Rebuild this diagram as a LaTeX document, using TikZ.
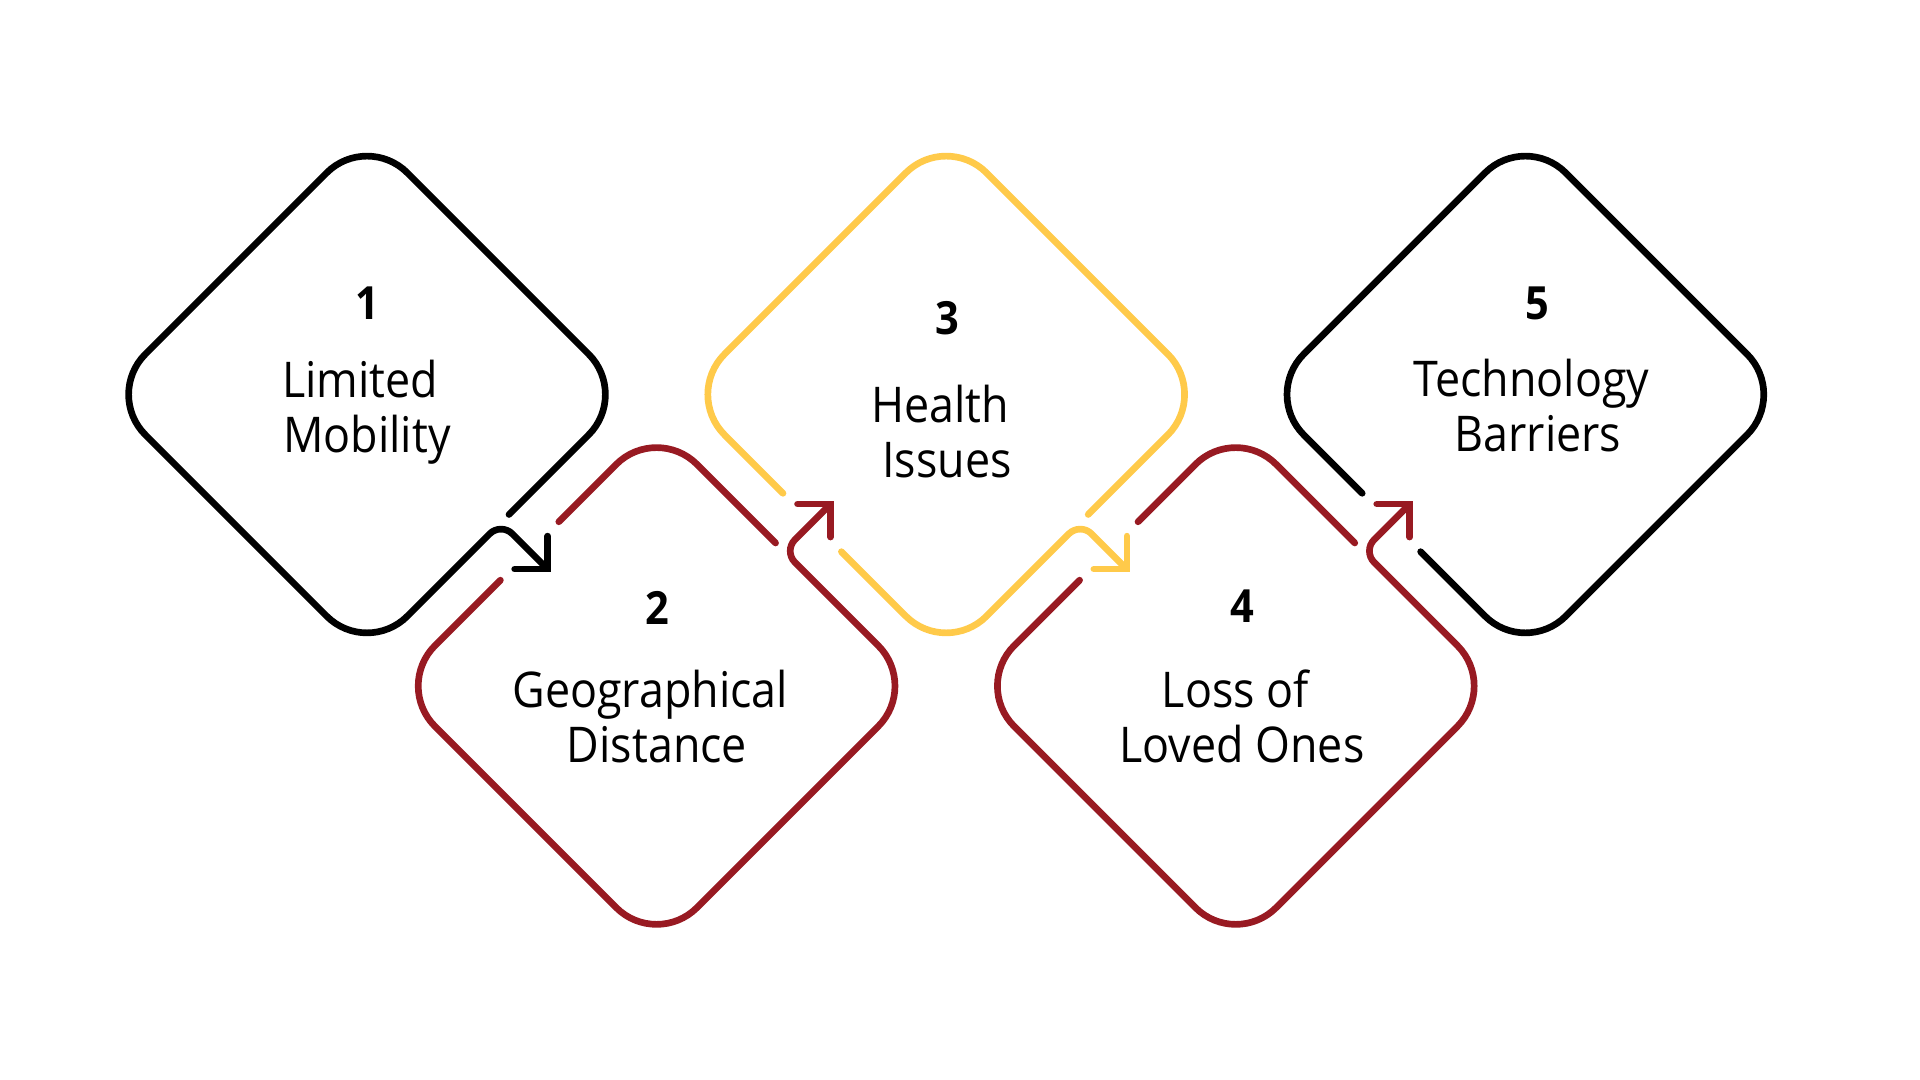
\documentclass[tikz,border=0pt]{standalone}
\usepackage{fontspec}
\setmainfont{Open Sans}[FakeStretch=0.91]
\usepackage{xcolor}
\usepackage{tikz}
\usetikzlibrary{arrows.meta}
\definecolor{wine}{RGB}{152,26,34}
\definecolor{sun}{RGB}{255,202,74}

\begin{document}
\begin{tikzpicture}[x=0.01cm, y=-0.01cm,
    outline/.style={line width=1.9pt, line cap=round, rounded corners=5.7mm},
    kink/.style={rounded corners=1.6mm},
    tipped/.style={-{Straight Barb[angle=90:3.3mm, line join=miter, line cap=round]}},
    num/.style={font=\fontsize{13}{15}\selectfont\bfseries, anchor=base},
    txt/.style={font=\fontsize{14}{15.8}\selectfont, align=center, anchor=base}]
    \useasboundingbox (0,0) rectangle (1920,1080);

    % 1: black, bent arrow out of the lower right side
    \begin{scope}[shift={(367,394.5)}]
        \draw[outline, tipped] (142,120) -- (262,0) -- (0,-262) -- (-262,0) -- (0,262) -- (81,181) [kink] -- (134,128) -- (184,178);
    \end{scope}

    % 2: red, gap on the upper left, arrow out of the upper right
    \begin{scope}[shift={(656.6,686)}]
        \draw[outline, wine] (-97.8,-164.2) -- (0,-262) -- (119,-143);
        \draw[outline, wine, tipped] (-156.2,-105.8) -- (-262,0) -- (0,262) -- (262,0) -- (181,-81) [kink] -- (127,-135) -- (177.3,-185.3);
    \end{scope}

    % 3: yellow
    \begin{scope}[shift={(946.2,394.5)}]
        \draw[outline, sun] (-163.2,98.8) -- (-262,0) -- (0,-262) -- (262,0) -- (142,120);
        \draw[outline, sun, tipped] (-104.8,157.2) -- (0,262) -- (81,181) [kink] -- (134,128) -- (184,178);
    \end{scope}

    % 4: red
    \begin{scope}[shift={(1235.8,686)}]
        \draw[outline, wine] (-97.8,-164.2) -- (0,-262) -- (119,-143);
        \draw[outline, wine, tipped] (-156.2,-105.8) -- (-262,0) -- (0,262) -- (262,0) -- (181,-81) [kink] -- (127,-135) -- (177.3,-185.3);
    \end{scope}

    % 5: black, only the gap
    \begin{scope}[shift={(1525.4,394.5)}]
        \draw[outline] (-104.8,157.2) -- (0,262) -- (262,0) -- (0,-262) -- (-262,0) -- (-163.2,98.8);
    \end{scope}

    \node[num] (n1) at (367,320) {1};
    \node[txt] (t1) at (367,453) {Limited\kern.27em\\Mobility};
    \node[num] (n2) at (657,625) {2};
    \node[txt] (t2) at (657,763) {Geographical\kern.27em\\Distance};
    \node[num] (n3) at (947,335) {3};
    \node[txt] (t3) at (947,478) {Health\kern.27em\\Issues};
    \node[num] (n4) at (1242,623) {4};
    \node[txt] (t4) at (1242,763) {Loss of\kern.27em\\Loved Ones};
    \node[num] (n5) at (1537,320) {5};
    \node[txt] (t5) at (1538,452) {Technology\kern.27em\\Barriers};
\end{tikzpicture}
\end{document}
